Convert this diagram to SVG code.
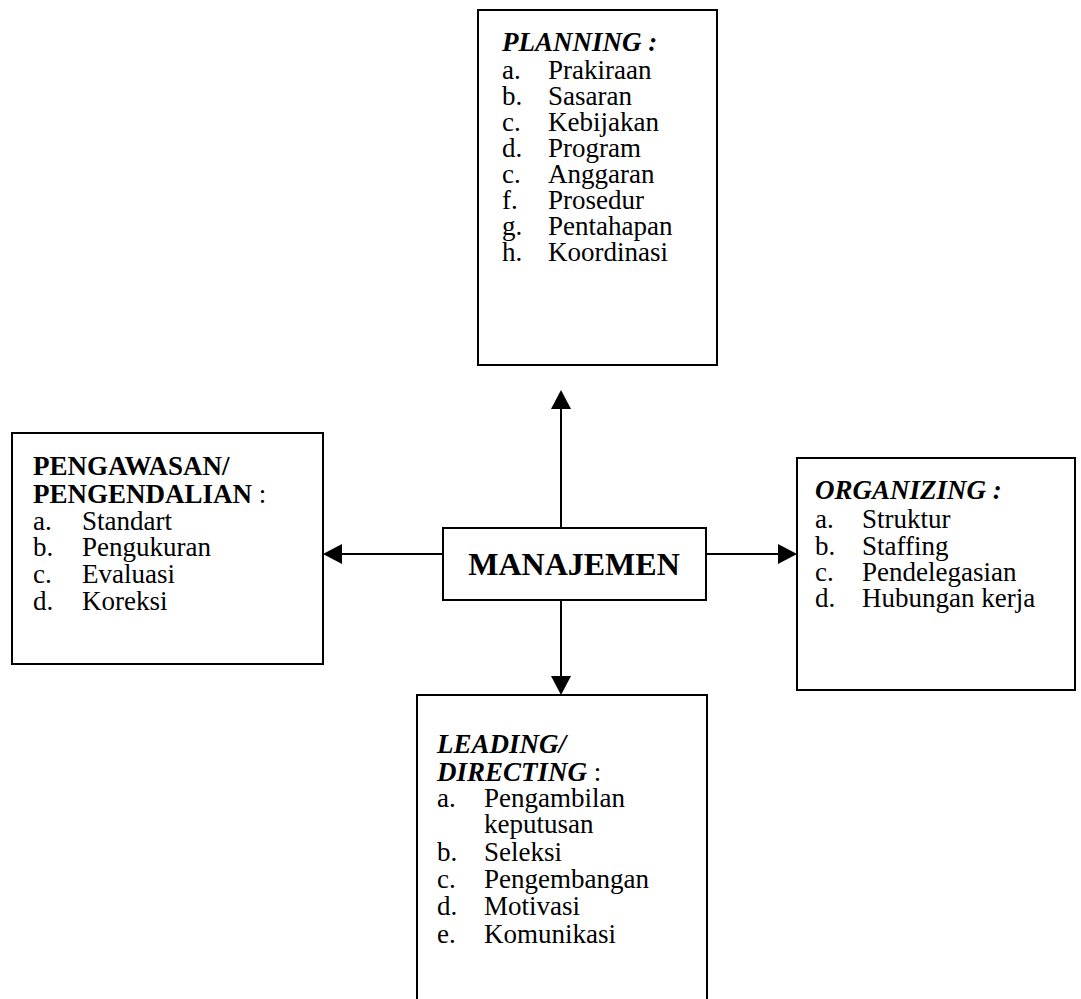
<svg xmlns="http://www.w3.org/2000/svg" width="1081" height="999" viewBox="0 0 1081 999">
<style>
.box{fill:#fff;stroke:#000;stroke-width:2}
.t{font-family:"Liberation Serif","Times New Roman",serif;font-size:27px;fill:#000}
.b{font-weight:bold}
.bi{font-weight:bold;font-style:italic}
.m{font-size:32px;font-weight:bold}
.conn{stroke:#000;stroke-width:2;fill:none}
.head{fill:#000}
</style>
<rect width="1081" height="999" fill="#fff"/>
<g id="connectors">
<path class="conn" d="M561,528 V408"/>
<path class="head" d="M561,390 L551,409 L571,409 z"/>
<path class="conn" d="M443,554 H341"/>
<path class="head" d="M323,554 L342,544 L342,564 z"/>
<path class="conn" d="M706,554 H779"/>
<path class="head" d="M797,554 L778,544 L778,564 z"/>
<path class="conn" d="M561,600 V677"/>
<path class="head" d="M561,695 L551,676 L571,676 z"/>
</g>
<g id="planning">
<rect class="box" x="478" y="10" width="239" height="355"/>
<text class="t bi" x="502" y="51">PLANNING :</text>
<text class="t" x="502" y="79">a.</text><text class="t" x="548" y="79">Prakiraan</text>
<text class="t" x="502" y="105">b.</text><text class="t" x="548" y="105">Sasaran</text>
<text class="t" x="502" y="131">c.</text><text class="t" x="548" y="131">Kebijakan</text>
<text class="t" x="502" y="157">d.</text><text class="t" x="548" y="157">Program</text>
<text class="t" x="502" y="183">c.</text><text class="t" x="548" y="183">Anggaran</text>
<text class="t" x="502" y="209">f.</text><text class="t" x="548" y="209">Prosedur</text>
<text class="t" x="502" y="235">g.</text><text class="t" x="548" y="235">Pentahapan</text>
<text class="t" x="502" y="261">h.</text><text class="t" x="548" y="261">Koordinasi</text>
</g>
<g id="pengawasan">
<rect class="box" x="12" y="433" width="311" height="231"/>
<text class="t b" x="33" y="475">PENGAWASAN/</text>
<text class="t" x="33" y="503"><tspan class="b">PENGENDALIAN</tspan> :</text>
<text class="t" x="33" y="530">a.</text><text class="t" x="82" y="530">Standart</text>
<text class="t" x="33" y="556">b.</text><text class="t" x="82" y="556">Pengukuran</text>
<text class="t" x="33" y="583">c.</text><text class="t" x="82" y="583">Evaluasi</text>
<text class="t" x="33" y="610">d.</text><text class="t" x="82" y="610">Koreksi</text>
</g>
<g id="manajemen">
<rect class="box" x="443" y="528" width="263" height="72"/>
<text class="t m" x="574" y="575" text-anchor="middle">MANAJEMEN</text>
</g>
<g id="organizing">
<rect class="box" x="797" y="458" width="278" height="232"/>
<text class="t bi" x="815" y="499">ORGANIZING :</text>
<text class="t" x="815" y="528">a.</text><text class="t" x="862" y="528">Struktur</text>
<text class="t" x="815" y="555">b.</text><text class="t" x="862" y="555">Staffing</text>
<text class="t" x="815" y="581">c.</text><text class="t" x="862" y="581">Pendelegasian</text>
<text class="t" x="815" y="607">d.</text><text class="t" x="862" y="607">Hubungan kerja</text>
</g>
<g id="leading">
<rect class="box" x="417" y="695" width="290" height="320"/>
<text class="t bi" x="437" y="753">LEADING/</text>
<text class="t" x="437" y="781"><tspan class="bi">DIRECTING</tspan> :</text>
<text class="t" x="437" y="807">a.</text><text class="t" x="484" y="807">Pengambilan</text>
<text class="t" x="484" y="833">keputusan</text>
<text class="t" x="437" y="861">b.</text><text class="t" x="484" y="861">Seleksi</text>
<text class="t" x="437" y="888">c.</text><text class="t" x="484" y="888">Pengembangan</text>
<text class="t" x="437" y="915">d.</text><text class="t" x="484" y="915">Motivasi</text>
<text class="t" x="437" y="943">e.</text><text class="t" x="484" y="943">Komunikasi</text>
</g>
</svg>
